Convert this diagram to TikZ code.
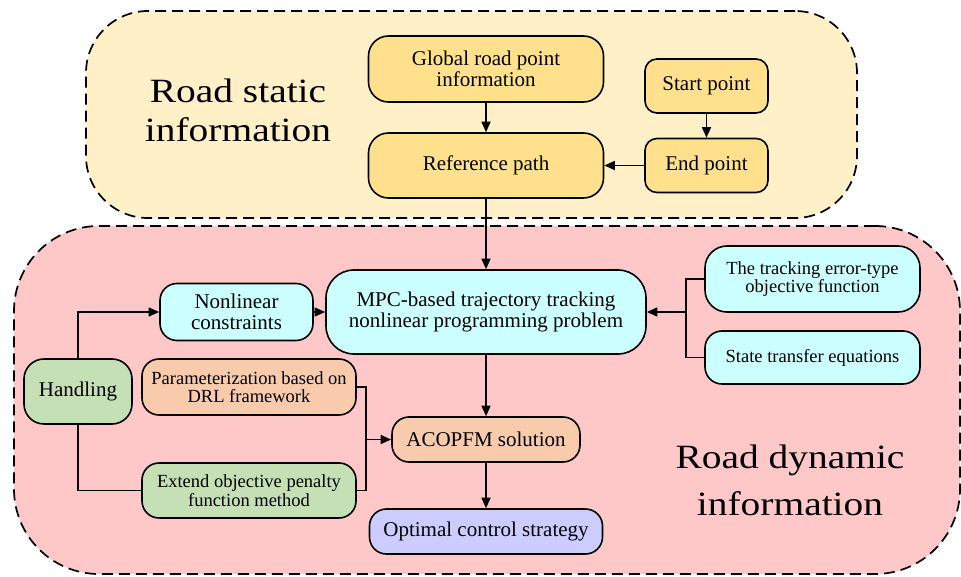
\documentclass[tikz,border=0pt]{standalone}
\usepackage{fontspec}
\setmainfont{Liberation Serif}
\usetikzlibrary{arrows.meta}
\definecolor{topbg}{HTML}{FFF0C8}
\definecolor{botbg}{HTML}{FFC8C8}
\definecolor{ylw}{HTML}{FFE08C}
\definecolor{cyn}{HTML}{CCFFFF}
\definecolor{pch}{HTML}{F8CBAD}
\definecolor{grn}{HTML}{C5E0B4}
\definecolor{prp}{HTML}{CCCCFF}
\begin{document}
\begin{tikzpicture}[x=1pt,y=-1pt,
  box/.style={draw=black, line width=1.6pt, rounded corners=17pt, inner sep=0pt, align=center, font=\fontsize{21}{21}\selectfont},
  smalltext/.style={font=\fontsize{18.5}{18.5}\selectfont},
  conn/.style={line width=1.5pt, -{Triangle[length=10.5pt,width=9pt]}},
  plain/.style={line width=1.5pt},
  region/.style={draw=black, line width=1.7pt, dash pattern=on 11pt off 6pt, inner sep=0pt},
  biglabel/.style={anchor=base, inner sep=0pt, font=\fontsize{34}{39}\selectfont, xscale=1.16, transform shape}]
\useasboundingbox (0,0) rectangle (961,577);
\fill[white] (0,0) rectangle (961,577);
% regions
\node[region, fill=topbg, rounded corners=62pt, minimum width=771pt, minimum height=207pt] (static) at (471.5,114.5) {};
\node[region, fill=botbg, rounded corners=85pt, minimum width=946pt, minimum height=348pt] (dynamic) at (487,400) {};
% big labels
\node[biglabel] (statA) at (238,102.7) {Road static};
\node[biglabel] (statB) at (238,141.7) {information};
\node[biglabel] (dynA) at (790,468) {Road dynamic};
\node[biglabel] (dynB) at (790,515) {information};
% top nodes
\node[box, fill=ylw, minimum width=235pt, minimum height=66pt, rounded corners=20pt] (global) at (486,69) {Global road point\\information};
\node[box, fill=ylw, minimum width=235pt, minimum height=65pt, rounded corners=20pt] (ref) at (486,165.5) {Reference path};
\node[box, fill=ylw, minimum width=123pt, minimum height=54pt, rounded corners=12pt] (start) at (706.5,86) {Start point};
\node[box, fill=ylw, minimum width=123pt, minimum height=54pt, rounded corners=12pt] (end) at (706.5,165.5) {End point};
% bottom nodes
\node[box, fill=cyn, minimum width=320pt, minimum height=84pt, rounded corners=28pt] (mpc) at (486,312) {MPC-based trajectory tracking\\nonlinear programming problem};
\node[box, fill=cyn, minimum width=153pt, minimum height=57pt] (nonlin) at (236.5,312) {Nonlinear\\constraints};
\node[box, fill=grn, minimum width=108pt, minimum height=65pt, rounded corners=20pt] (handling) at (78,391.5) {Handling};
\node[box, smalltext, fill=pch, minimum width=214pt, minimum height=56pt] (param) at (249,387) {Parameterization based on\\DRL framework};
\node[box, smalltext, fill=grn, minimum width=214pt, minimum height=55pt] (extend) at (249,490.5) {Extend objective penalty\\function method};
\node[box, fill=pch, minimum width=188pt, minimum height=45pt] (acopfm) at (486,439.5) {ACOPFM solution};
\node[box, fill=prp, minimum width=233pt, minimum height=45pt] (optimal) at (486,531.5) {Optimal control strategy};
\node[box, smalltext, fill=cyn, minimum width=215pt, minimum height=66pt, rounded corners=22pt] (track) at (812.5,279) {The tracking error-type\\objective function};
\node[box, smalltext, fill=cyn, minimum width=215pt, minimum height=53pt] (state) at (812.5,357.5) {State transfer equations};
% connectors
\draw[conn] (global) -- (ref);
\draw[conn] (start) -- (end);
\draw[conn] (end) -- (ref);
\draw[conn] (ref) -- (mpc);
\draw[conn] (mpc) -- (acopfm);
\draw[conn] (acopfm) -- (optimal);
\draw[conn] (nonlin) -- (mpc);
\draw[conn] (handling.north) |- (nonlin.west);
\draw[plain] (handling.south) |- (extend.west);
\coordinate (j1) at (366,439.5);
\draw[plain] (param.east) -| (j1);
\draw[plain] (extend.east) -| (j1);
\draw[conn] (j1) -- (acopfm.west);
\coordinate (j2) at (686,312);
\draw[plain] (track.west) -| (j2);
\draw[plain] (state.west) -| (j2);
\draw[conn] (j2) -- (mpc.east);
\end{tikzpicture}
\end{document}
